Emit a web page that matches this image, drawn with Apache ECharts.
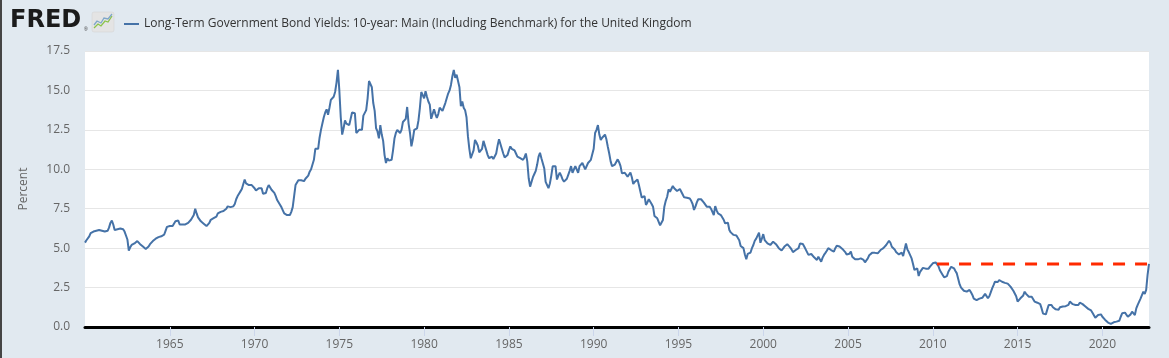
<!DOCTYPE html>
<html>
<head>
<meta charset="utf-8">
<script src="https://cdn.jsdelivr.net/npm/echarts@6/dist/echarts.min.js"></script>
<style>
html,body{margin:0;padding:0;background:#e1e9f0;}
#chart{position:absolute;left:0;top:0;width:1169px;height:358px;}
#edge{position:absolute;left:0;top:0;width:2px;height:358px;background:#454545;}
</style>
</head>
<body>
<div id="chart"></div>
<div id="edge"></div>
<script>
// Monthly UK 10-year yields (percent), January 1960 onward
const startYear = 1960;
const yields1960s = [
 5.35,5.5,5.6,5.75,5.95,6.05,6.05,6.0,6.1,6.15,6.15,6.15,
 6.1,6.05,6.05,6.1,6.1,6.3,6.6,6.75,6.5,6.15,6.15,6.2,
 6.25,6.25,6.25,6.2,6.05,5.8,5.55,4.85,5.05,5.2,5.15,5.3,
 5.35,5.45,5.4,5.25,5.15,5.1,5.0,4.95,4.95,5.1,5.25,5.3,
 5.45,5.5,5.6,5.65,5.7,5.7,5.75,5.8,5.85,6.1,6.35,6.35,
 6.4,6.45,6.4,6.5,6.7,6.8,6.75,6.5,6.45,6.5,6.45,6.5,
 6.55,6.6,6.7,6.8,6.9,7.1,7.5,7.2,6.95,6.85,6.7,6.65,
 6.55,6.45,6.4,6.45,6.6,6.8,6.8,6.9,6.9,7.0,7.2,7.3,
 7.3,7.3,7.35,7.4,7.5,7.65,7.65,7.6,7.6,7.65,7.8,8.1,
 8.3,8.45,8.6,8.75,9.05,9.35,9.1,9.05,9.0,9.0,9.0,8.95
];
const yields1970s = [
 8.8,8.65,8.6,8.8,8.9,8.8,8.45,8.35,8.5,8.8,9.0,8.95,
 8.7,8.6,8.5,8.3,8.05,7.95,7.75,7.6,7.4,7.2,7.1,7.1,
 7.05,7.1,7.3,7.6,8.3,9.0,9.1,9.3,9.2,9.3,9.2,9.25,
 9.4,9.5,9.6,9.85,10.0,10.1,10.6,11.3,11.4,11.3,12.0,12.5,
 12.9,13.3,13.6,13.8,13.45,13.9,14.4,14.3,14.6,14.9,15.5,16.3,
 15.0,13.3,12.2,12.6,13.1,12.9,12.8,12.8,12.8,13.6,13.65,13.55,
 12.3,12.2,12.5,12.4,12.5,13.4,13.5,13.75,14.5,15.6,15.5,15.2,
 14.2,13.7,12.6,12.4,11.96,12.8,12.2,11.8,10.9,10.4,10.7,10.55,
 10.45,10.6,11.2,11.95,12.3,12.5,12.4,12.3,12.5,13.0,13.1,13.2,
 13.95,12.9,12.3,11.45,11.9,12.5,12.4,12.6,13.1,13.9,14.9,14.7
];
const yields1980s = [
 14.5,14.95,14.6,14.3,14.1,13.2,13.3,13.8,13.5,13.25,13.5,13.9,
 13.8,13.7,13.65,14.2,14.5,14.8,15.0,15.35,15.9,16.3,15.8,16.0,
 15.9,15.2,14.0,14.3,13.9,13.75,13.3,12.1,11.3,10.7,10.8,11.2,
 11.86,11.7,11.5,11.08,11.0,11.3,11.8,11.5,11.2,10.9,10.7,10.75,
 10.8,10.65,10.7,11.0,11.5,11.9,12.0,11.3,11.0,10.75,10.7,10.9,
 11.2,11.45,11.3,11.25,11.2,11.0,10.8,10.75,10.7,10.7,10.6,10.75,
 11.0,10.5,9.43,8.9,9.2,9.5,9.7,9.9,10.3,10.8,11.05,10.7,
 10.6,10.07,9.2,9.1,8.8,9.1,9.6,10.2,10.3,10.2,9.35,9.6,
 9.78,9.6,9.35,9.22,9.3,9.4,9.65,9.9,10.2,9.78,9.9,10.2,
 10.0,9.78,10.2,10.2,10.4,10.5,10.0,9.95,10.4,10.5,10.6,10.7
];
const yields1990s = [
 11.3,12.3,12.5,12.8,12.2,11.86,12.0,12.07,12.2,11.9,11.43,11.0,
 10.5,10.2,10.2,10.3,10.4,10.63,10.45,10.2,9.74,9.8,9.78,9.7,
 9.53,9.6,9.8,9.5,9.07,9.2,9.3,9.36,9.0,8.9,8.21,8.3,
 8.3,7.74,7.9,8.1,8.15,7.8,7.63,7.04,6.95,6.89,6.79,6.45,
 6.4,6.79,7.63,8.0,8.26,8.73,8.58,8.7,8.94,8.8,8.73,8.62,
 8.65,8.75,8.58,8.4,8.22,8.3,8.2,8.1,8.15,8.0,7.8,7.42,
 7.63,7.9,8.1,8.0,8.1,8.05,7.89,7.8,7.63,7.7,7.63,7.5,
 7.52,7.1,7.67,7.4,7.2,7.1,7.1,7.04,6.8,6.57,6.6,6.61,
 6.15,6.0,5.95,5.84,5.85,5.8,5.84,5.5,5.14,5.05,5.0,4.6,
 4.29,4.63,4.7,4.72,5.0,5.2,5.47,5.6,5.72,5.98,5.34,5.6
];
const yields2000s = [
 5.89,5.51,5.41,5.3,5.3,5.2,5.3,5.41,5.35,5.25,5.14,5.0,
 4.9,4.85,4.78,5.1,5.2,5.25,5.2,5.05,4.92,4.75,4.63,4.88,
 4.95,5.0,5.3,5.3,5.26,5.1,5.0,4.75,4.57,4.65,4.63,4.55,
 4.42,4.3,4.25,4.46,4.3,4.14,4.4,4.57,4.7,4.84,5.0,5.09,
 4.88,4.85,4.78,5.0,5.15,5.26,5.1,5.09,4.95,4.84,4.75,4.6,
 4.57,4.65,4.78,4.46,4.35,4.29,4.3,4.29,4.25,4.35,4.3,4.25,
 4.1,4.2,4.35,4.55,4.67,4.7,4.71,4.7,4.6,4.67,4.7,4.88,
 4.84,5.0,5.09,5.2,5.3,5.47,5.34,5.09,5.0,4.92,4.75,4.67,
 4.6,4.57,4.71,4.5,4.9,5.3,4.92,4.75,4.63,4.35,4.0,3.62,
 3.7,3.72,3.23,3.5,3.57,3.75,3.78,3.7,3.62,3.7,3.83,3.95
];
const yields2010s = [
 4.04,4.14,4.1,4.08,3.85,3.6,3.51,3.3,3.15,3.1,3.23,3.5,
 3.62,3.82,3.75,3.72,3.55,3.4,3.3,2.7,2.5,2.4,2.3,2.24,
 2.24,2.3,2.35,2.2,2.03,1.8,1.72,1.7,1.76,1.8,1.8,1.85,
 1.92,2.1,2.18,1.82,1.95,2.2,2.45,2.65,2.87,2.75,2.85,2.98,
 2.9,2.87,2.85,2.8,2.81,2.75,2.7,2.56,2.5,2.3,2.24,1.95,
 1.61,1.7,1.82,1.8,2.0,2.24,2.1,2.0,1.92,1.85,1.92,1.9,
 1.61,1.55,1.54,1.5,1.45,1.18,0.85,0.76,0.8,1.1,1.4,1.38,
 1.4,1.25,1.15,1.12,1.15,1.1,1.25,1.2,1.3,1.33,1.32,1.25,
 1.4,1.61,1.5,1.45,1.45,1.4,1.35,1.4,1.54,1.55,1.45,1.35,
 1.3,1.25,1.15,1.1,1.05,0.9,0.8,0.59,0.65,0.76,0.75,0.8
];
const yields2020s = [
 0.65,0.55,0.45,0.35,0.28,0.25,0.2,0.25,0.3,0.32,0.34,0.35,
 0.4,0.65,0.87,0.85,0.91,0.8,0.65,0.6,0.8,0.97,0.85,0.76,
 1.18,1.4,1.5,1.8,1.9,2.24,2.1,2.35,3.3,4.0
];
// Red dashed reference level
const refLevel = 4.0;
const refStart = 2010.25;
const refEnd = 2022.75;
// Axis settings
const xTickYears = [1965,1970,1975,1980,1985,1990,1995,2000,2005,2010,2015,2020];
const yMax = 17.5, yStep = 2.5;
const seriesName = 'Long-Term Government Bond Yields: 10-year: Main (Including Benchmark) for the United Kingdom';

const allYields = [].concat(yields1960s, yields1970s, yields1980s, yields1990s, yields2000s, yields2010s, yields2020s);
const lineData = allYields.map((v, i) => [startYear + i / 12, v]);

const chart = echarts.init(document.getElementById('chart'), null, {renderer: 'canvas'});
const font = '"Open Sans", "DejaVu Sans", sans-serif';
chart.setOption({
  animation: false,
  backgroundColor: '#e1e9f0',
  textStyle: {fontFamily: font},
  grid: {left: 85, right: 20, top: 51, bottom: 31, show: true, backgroundColor: '#ffffff', borderWidth: 0},
  legend: {
    left: 119, top: 13, data: [seriesName], icon: 'rect', itemWidth: 15, itemHeight: 2, itemGap: 5,
    textStyle: {fontSize: 12, color: '#333333', fontFamily: font}
  },
  graphic: [
    {type: 'text', left: 10, top: 9, style: {text: 'FRED', font: 'bold 24px "DejaVu Sans", sans-serif', fill: '#1b1b1b'}},
    {type: 'text', left: 84, top: 27, style: {text: '®', font: '5px sans-serif', fill: '#333'}},
    {type: 'rect', shape: {x: 92, y: 12, width: 22, height: 20, r: 2}, style: {fill: '#e4e4e4', stroke: '#d0d0d0', lineWidth: 0.5}},
    {type: 'polyline', shape: {points: [[94,28],[98,24],[101,26],[105,21],[108,22],[112,16]]}, style: {stroke: '#8bc34a', lineWidth: 1.3, fill: null}},
    {type: 'polyline', shape: {points: [[94,25],[97,21],[101,23],[104,18],[108,19],[112,14]]}, style: {stroke: '#7fa7c9', lineWidth: 1.3, fill: null}}
  ],
  xAxis: {
    type: 'value', min: startYear, max: refEnd, interval: 5,
    axisLine: {show: true, lineStyle: {color: '#000000', width: 3}},
    axisTick: {show: true, customValues: xTickYears, length: 9, lineStyle: {color: '#ccd6eb', width: 1}},
    axisLabel: {customValues: xTickYears, color: '#666666', fontSize: 12, margin: 12, formatter: v => String(Math.round(v))},
    splitLine: {show: false}
  },
  yAxis: {
    type: 'value', min: 0, max: yMax, interval: yStep,
    name: 'Percent', nameLocation: 'middle', nameRotate: 90, nameGap: 55,
    nameTextStyle: {color: '#666666', fontSize: 12},
    axisLine: {show: false}, axisTick: {show: false},
    axisLabel: {color: '#666666', fontSize: 12, margin: 15, formatter: v => v.toFixed(1)},
    splitLine: {lineStyle: {color: '#e6e6e6', width: 1}}
  },
  series: [
    {
      name: seriesName, type: 'line', data: lineData, showSymbol: false,
      lineStyle: {color: '#4572a7', width: 2}, itemStyle: {color: '#4572a7'}, z: 2
    },
    {
      type: 'line', data: [[refStart, refLevel], [refEnd, refLevel]], showSymbol: false,
      lineStyle: {color: '#ff2a00', width: 3, type: [12, 10]}, z: 3
    }
  ]
});
</script>
</body>
</html>
